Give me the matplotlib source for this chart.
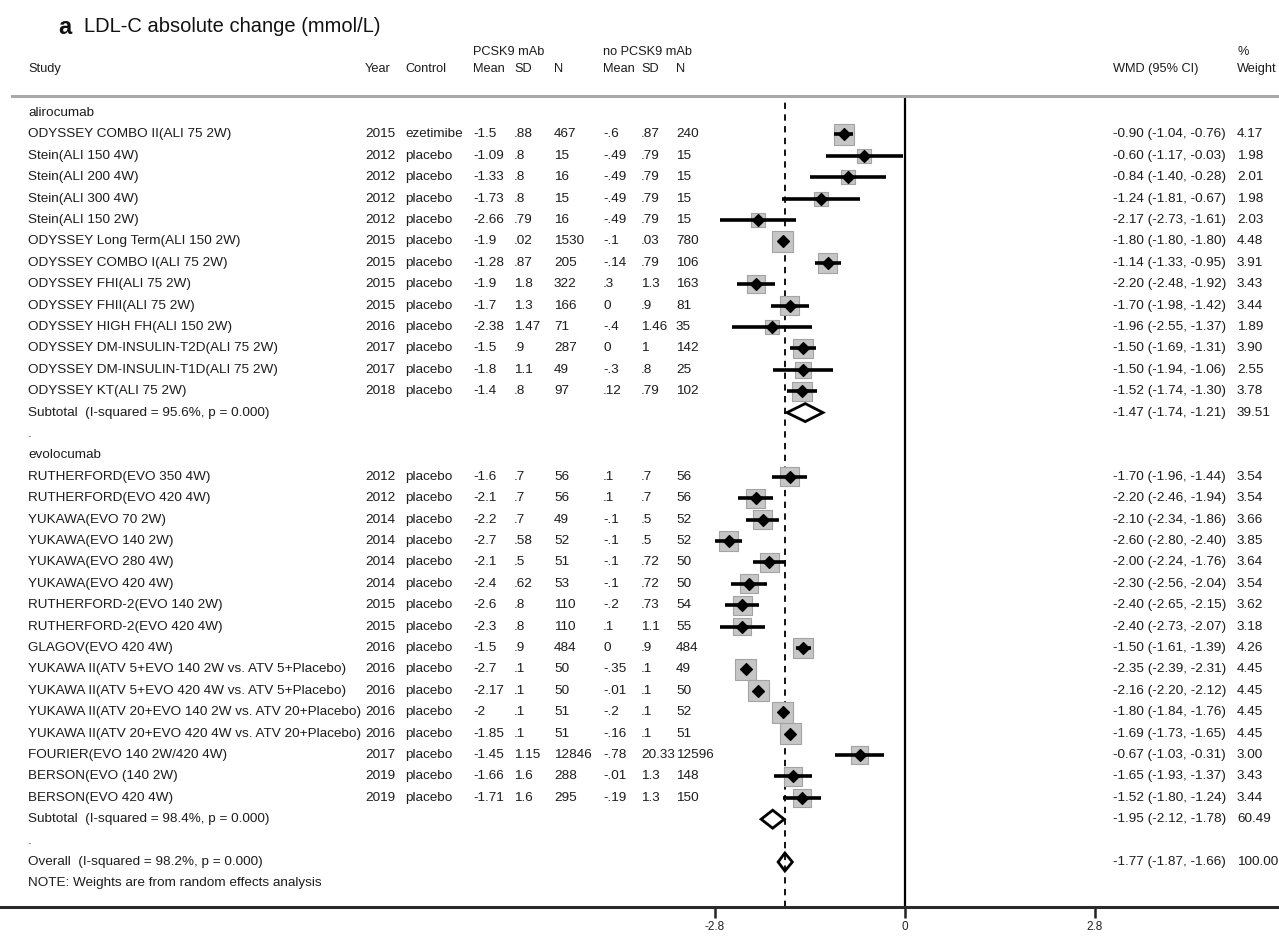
import matplotlib
matplotlib.use('Agg')
import matplotlib.pyplot as plt
import matplotlib.transforms as mtransforms
from matplotlib.patches import Polygon
import numpy as np

plt.rcParams['font.family'] = ['Liberation Sans', 'DejaVu Sans']

# ---- alirocumab trials ----
ali_study = ['ODYSSEY COMBO II(ALI 75 2W)', 'Stein(ALI 150 4W)', 'Stein(ALI 200 4W)',
             'Stein(ALI 300 4W)', 'Stein(ALI 150 2W)', 'ODYSSEY Long Term(ALI 150 2W)',
             'ODYSSEY COMBO I(ALI 75 2W)', 'ODYSSEY FHI(ALI 75 2W)', 'ODYSSEY FHII(ALI 75 2W)',
             'ODYSSEY HIGH FH(ALI 150 2W)', 'ODYSSEY DM-INSULIN-T2D(ALI 75 2W)',
             'ODYSSEY DM-INSULIN-T1D(ALI 75 2W)', 'ODYSSEY KT(ALI 75 2W)']
ali_year = ['2015', '2012', '2012', '2012', '2012', '2015', '2015', '2015', '2015', '2016', '2017', '2017', '2018']
ali_control = ['ezetimibe'] + ['placebo'] * 12
ali_mean1 = ['-1.5', '-1.09', '-1.33', '-1.73', '-2.66', '-1.9', '-1.28', '-1.9', '-1.7', '-2.38', '-1.5', '-1.8', '-1.4']
ali_sd1 = ['.88', '.8', '.8', '.8', '.79', '.02', '.87', '1.8', '1.3', '1.47', '.9', '1.1', '.8']
ali_n1 = ['467', '15', '16', '15', '16', '1530', '205', '322', '166', '71', '287', '49', '97']
ali_mean0 = ['-.6', '-.49', '-.49', '-.49', '-.49', '-.1', '-.14', '.3', '0', '-.4', '0', '-.3', '.12']
ali_sd0 = ['.87', '.79', '.79', '.79', '.79', '.03', '.79', '1.3', '.9', '1.46', '1', '.8', '.79']
ali_n0 = ['240', '15', '15', '15', '15', '780', '106', '163', '81', '35', '142', '25', '102']
ali_wmd = [-0.90, -0.60, -0.84, -1.24, -2.17, -1.80, -1.14, -2.20, -1.70, -1.96, -1.50, -1.50, -1.52]
ali_lo = [-1.04, -1.17, -1.40, -1.81, -2.73, -1.80, -1.33, -2.48, -1.98, -2.55, -1.69, -1.94, -1.74]
ali_hi = [-0.76, -0.03, -0.28, -0.67, -1.61, -1.80, -0.95, -1.92, -1.42, -1.37, -1.31, -1.06, -1.30]
ali_wt = [4.17, 1.98, 2.01, 1.98, 2.03, 4.48, 3.91, 3.43, 3.44, 1.89, 3.90, 2.55, 3.78]
ali_sub = (-1.47, -1.74, -1.21, 39.51)
ali_sub_label = 'Subtotal  (I-squared = 95.6%, p = 0.000)'

# ---- evolocumab trials ----
evo_study = ['RUTHERFORD(EVO 350 4W)', 'RUTHERFORD(EVO 420 4W)', 'YUKAWA(EVO 70 2W)',
             'YUKAWA(EVO 140 2W)', 'YUKAWA(EVO 280 4W)', 'YUKAWA(EVO 420 4W)',
             'RUTHERFORD-2(EVO 140 2W)', 'RUTHERFORD-2(EVO 420 4W)', 'GLAGOV(EVO 420 4W)',
             'YUKAWA II(ATV 5+EVO 140 2W vs. ATV 5+Placebo)',
             'YUKAWA II(ATV 5+EVO 420 4W vs. ATV 5+Placebo)',
             'YUKAWA II(ATV 20+EVO 140 2W vs. ATV 20+Placebo)',
             'YUKAWA II(ATV 20+EVO 420 4W vs. ATV 20+Placebo)',
             'FOURIER(EVO 140 2W/420 4W)', 'BERSON(EVO (140 2W)', 'BERSON(EVO 420 4W)']
evo_year = ['2012', '2012', '2014', '2014', '2014', '2014', '2015', '2015', '2016',
            '2016', '2016', '2016', '2016', '2017', '2019', '2019']
evo_control = ['placebo'] * 16
evo_mean1 = ['-1.6', '-2.1', '-2.2', '-2.7', '-2.1', '-2.4', '-2.6', '-2.3', '-1.5',
             '-2.7', '-2.17', '-2', '-1.85', '-1.45', '-1.66', '-1.71']
evo_sd1 = ['.7', '.7', '.7', '.58', '.5', '.62', '.8', '.8', '.9', '.1', '.1', '.1', '.1', '1.15', '1.6', '1.6']
evo_n1 = ['56', '56', '49', '52', '51', '53', '110', '110', '484', '50', '50', '51', '51', '12846', '288', '295']
evo_mean0 = ['.1', '.1', '-.1', '-.1', '-.1', '-.1', '-.2', '.1', '0', '-.35', '-.01', '-.2', '-.16', '-.78', '-.01', '-.19']
evo_sd0 = ['.7', '.7', '.5', '.5', '.72', '.72', '.73', '1.1', '.9', '.1', '.1', '.1', '.1', '20.33', '1.3', '1.3']
evo_n0 = ['56', '56', '52', '52', '50', '50', '54', '55', '484', '49', '50', '52', '51', '12596', '148', '150']
evo_wmd = [-1.70, -2.20, -2.10, -2.60, -2.00, -2.30, -2.40, -2.40, -1.50, -2.35, -2.16, -1.80, -1.69, -0.67, -1.65, -1.52]
evo_lo = [-1.96, -2.46, -2.34, -2.80, -2.24, -2.56, -2.65, -2.73, -1.61, -2.39, -2.20, -1.84, -1.73, -1.03, -1.93, -1.80]
evo_hi = [-1.44, -1.94, -1.86, -2.40, -1.76, -2.04, -2.15, -2.07, -1.39, -2.31, -2.12, -1.76, -1.65, -0.31, -1.37, -1.24]
evo_wt = [3.54, 3.54, 3.66, 3.85, 3.64, 3.54, 3.62, 3.18, 4.26, 4.45, 4.45, 4.45, 4.45, 3.00, 3.43, 3.44]
evo_sub = (-1.95, -2.12, -1.78, 60.49)
evo_sub_label = 'Subtotal  (I-squared = 98.4%, p = 0.000)'

overall = (-1.77, -1.87, -1.66, 100.00)
overall_label = 'Overall  (I-squared = 98.2%, p = 0.000)'
note_label = 'NOTE: Weights are from random effects analysis'
x_ticks = [-2.8, 0, 2.8]
x_ticklabels = ['-2.8', '0', '2.8']

# ---- layout (pixels) ----
W, H = 1279, 940
FS = 9.7
TXT = '#1c1c1c'
top_px, bot_px = 96, 907
row0_px, step_px = 113, 21.4
col = dict(study=28, year=365, control=405, m1=473, sd1=514, n1=554,
           m0=603, sd0=641, n0=676, wmd=1113, wt=1237)

fig = plt.figure(figsize=(W / 100, H / 100), dpi=100)
ax = fig.add_axes([715 / W, 1 - bot_px / H, 380 / W, (bot_px - top_px) / H])
ax.set_xlim(-2.8, 2.8)
y_top = (top_px - row0_px) / step_px
y_bot = (bot_px - row0_px) / step_px
ax.set_ylim(y_bot, y_top)
for s in ax.spines.values():
    s.set_visible(False)
ax.set_yticks([])
ax.set_xticks(x_ticks)
ax.set_xticklabels(x_ticklabels)
ax.tick_params(axis='x', direction='out', length=8, width=1.8, labelsize=8.5,
               pad=2, colors='#222222')

tr = mtransforms.blended_transform_factory(fig.transFigure, ax.transData)


def put(px, y, s, **kw):
    ax.text(px / W, y, s, transform=tr, fontsize=FS, color=TXT,
            va='center', ha='left', clip_on=False, **kw)


def ci_text(est, lo, hi):
    return '{:.2f} ({:.2f}, {:.2f})'.format(est, lo, hi)


def draw_diamond(y, est, lo, hi, hh=0.42):
    ax.add_patch(Polygon([(lo, y), (est, y - hh), (hi, y), (est, y + hh)], closed=True,
                         fill=False, edgecolor='black', lw=2.0, zorder=4))


def draw_group(y0, label, study, year, control, m1, sd1, n1, m0, sd0, n0, wmd, lo, hi, wt, sub, sub_label):
    put(col['study'], y0, label)
    ys = np.arange(len(study)) + y0 + 1
    for k, y in enumerate(ys):
        put(col['study'], y, study[k])
        put(col['year'], y, year[k])
        put(col['control'], y, control[k])
        put(col['m1'], y, m1[k])
        put(col['sd1'], y, sd1[k])
        put(col['n1'], y, n1[k])
        put(col['m0'], y, m0[k])
        put(col['sd0'], y, sd0[k])
        put(col['n0'], y, n0[k])
        put(col['wmd'], y, ci_text(wmd[k], lo[k], hi[k]))
        put(col['wt'], y, '{:.2f}'.format(wt[k]))
    # grey weight boxes, area proportional to weight
    side_px = 21 * np.sqrt(np.array(wt) / max(ali_wt + evo_wt))
    ax.scatter(wmd, ys, s=(side_px * 0.72) ** 2, marker='s', facecolor='#c6c6c6',
               edgecolor='#a3a3a3', linewidth=0.8, zorder=2)
    ax.hlines(ys, lo, hi, color='black', lw=2.6, zorder=3)
    ax.scatter(wmd, ys, s=36, marker='D', color='black', zorder=4)
    ysub = ys[-1] + 1
    put(col['study'], ysub, sub_label)
    put(col['wmd'], ysub, ci_text(*sub[:3]))
    put(col['wt'], ysub, '{:.2f}'.format(sub[3]))
    draw_diamond(ysub, *sub[:3])
    return ysub


# reference lines
ax.axvline(0, color='black', lw=1.6, zorder=1)
ax.axvline(overall[0], color='black', lw=1.3, ls=(0, (3.5, 3)), zorder=1)

y = draw_group(0, 'alirocumab', ali_study, ali_year, ali_control, ali_mean1, ali_sd1, ali_n1,
               ali_mean0, ali_sd0, ali_n0, ali_wmd, ali_lo, ali_hi, ali_wt, ali_sub, ali_sub_label)
put(col['study'], y + 1, '.')
y = draw_group(y + 2, 'evolocumab', evo_study, evo_year, evo_control, evo_mean1, evo_sd1, evo_n1,
               evo_mean0, evo_sd0, evo_n0, evo_wmd, evo_lo, evo_hi, evo_wt, evo_sub, evo_sub_label)
put(col['study'], y + 1, '.')
y_all = y + 2
put(col['study'], y_all, overall_label)
put(col['wmd'], y_all, ci_text(*overall[:3]))
put(col['wt'], y_all, '{:.2f}'.format(overall[3]))
draw_diamond(y_all, *overall[:3])
put(col['study'], y_all + 1, note_label)

# header / footer rules
ax.plot([12 / W, 1], [y_top, y_top], transform=tr, color='#a9a9a9', lw=2.2, clip_on=False)
ax.plot([0, 1], [y_bot, y_bot], transform=tr, color='#2a2a2a', lw=2.2, clip_on=False)


# column headers
def head(px, py, s, **kw):
    fig.text(px / W, 1 - py / H, s, fontsize=FS - 0.5, color=TXT, va='center', ha='left', **kw)


head(col['m1'], 52, 'PCSK9 mAb')
head(col['m0'], 52, 'no PCSK9 mAb')
head(col['wt'], 52, '%')
for key, lab in [('study', 'Study'), ('year', 'Year'), ('control', 'Control'),
                 ('m1', 'Mean'), ('sd1', 'SD'), ('n1', 'N'),
                 ('m0', 'Mean'), ('sd0', 'SD'), ('n0', 'N'),
                 ('wmd', 'WMD (95% CI)'), ('wt', 'Weight')]:
    head(col[key], 69, lab)

# title
fig.text(58 / W, 1 - 27 / H, 'a', fontsize=17, fontweight='bold', color='#111111', va='center')
fig.text(84 / W, 1 - 27 / H, 'LDL-C absolute change (mmol/L)', fontsize=14.5,
         color='#111111', va='center')

fig.savefig('out.png', dpi=100)
